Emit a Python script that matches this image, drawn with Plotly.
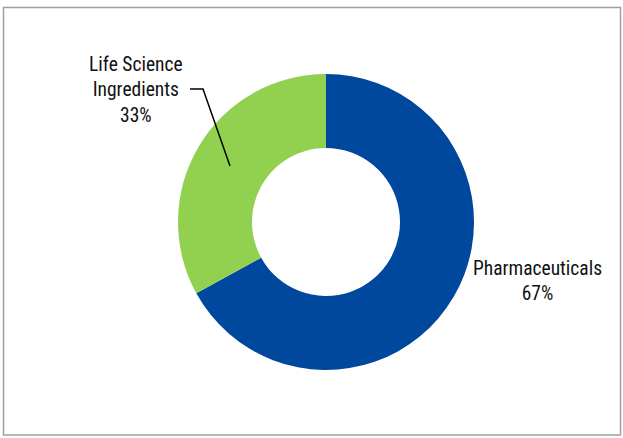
import plotly.graph_objects as go

W, H = 623, 438
segments = ["Pharmaceuticals", "Life Science Ingredients"]
shares = [67, 33]
colors = ["#00479E", "#92D050"]

def px(x):
    return x / W

def py(y):
    return 1 - y / H

fig = go.Figure(go.Pie(
    labels=segments,
    values=shares,
    hole=0.5,
    sort=False,
    direction="clockwise",
    rotation=0,
    marker=dict(colors=colors, line=dict(width=0)),
    textinfo="none",
    hoverinfo="label+percent",
    domain=dict(x=[px(178), px(474)], y=[py(370), py(74)]),
    showlegend=False,
))

font = dict(family="Roboto Condensed, DejaVu Sans Condensed, sans-serif", size=19.5, color="#111111")

fig.add_annotation(x=px(537.5), y=py(281), xref="paper", yref="paper",
                   text=f"{segments[0]}<br>{shares[0]}%", showarrow=False,
                   font=font, align="center", xanchor="center", yanchor="middle")
fig.add_annotation(x=px(136), y=py(90), xref="paper", yref="paper",
                   text=f"Life Science<br>Ingredients<br>{shares[1]}%", showarrow=False,
                   font=font, align="center", xanchor="center", yanchor="middle")

fig.add_shape(type="path", xref="paper", yref="paper",
              path=f"M {px(190)} {py(89)} L {px(203)} {py(89)} L {px(230)} {py(166)}",
              line=dict(color="black", width=1.5))

fig.add_shape(type="rect", xref="paper", yref="paper",
              x0=px(3.5), x1=px(620.5), y0=py(435), y1=py(7.5),
              line=dict(color="#A0A0A0", width=1.5))

fig.update_layout(width=W, height=H, margin=dict(l=0, r=0, t=0, b=0),
                  paper_bgcolor="white", plot_bgcolor="white")

fig.write_html("out.html", config={"displayModeBar": False},
               post_script="document.body.style.margin='0';")
